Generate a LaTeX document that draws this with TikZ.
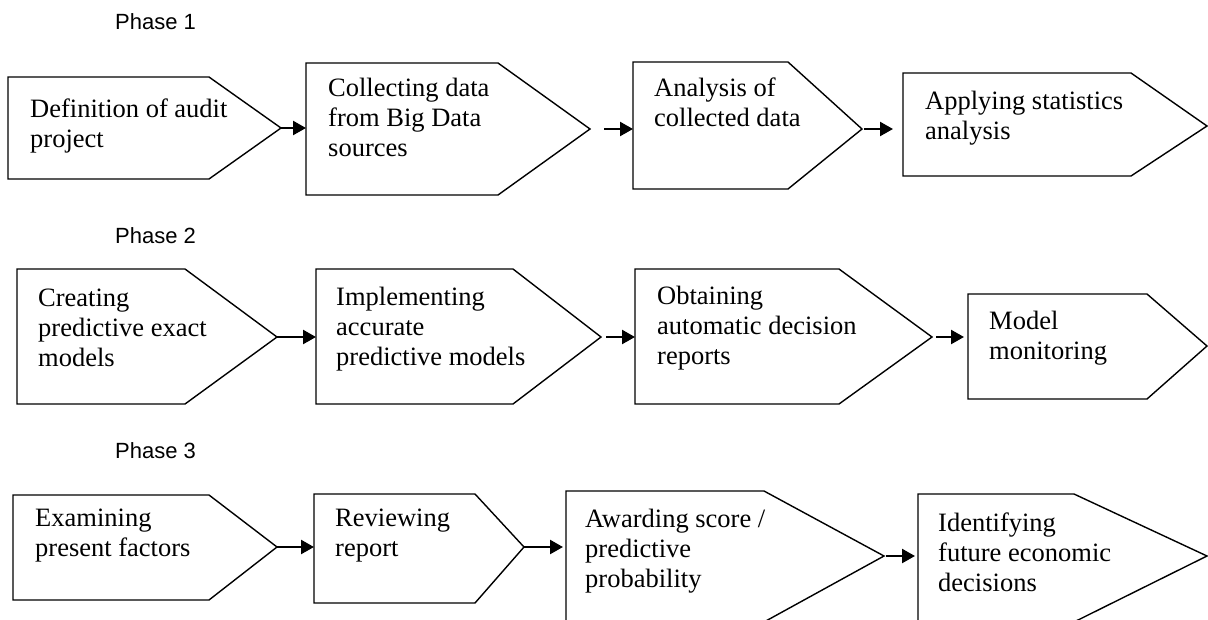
\documentclass[tikz,border=0pt]{standalone}
\usepackage{fontspec}
\setmainfont{Liberation Serif}
\newfontfamily\labelfont{Liberation Sans}
\usetikzlibrary{arrows.meta}

% #1 name, #2 left, #3 top, #4 bottom, #5 shoulder x, #6 tip x, #7 tip y
\newcommand\stagebox[7]{%
  \draw[stage] (#2,#3) -- (#5,#3) -- (#6,#7) -- (#5,#4) -- (#2,#4) -- cycle;
  \coordinate (#1-tip) at (#6,#7);
  \coordinate (#1-w) at (#2,#7);
}

\begin{document}
\begin{tikzpicture}[x=1pt,y=-1pt,
  stage/.style={draw, line width=1.4pt, line join=miter},
  txt/.style={anchor=north west, inner sep=0pt, align=left,
    font=\fontsize{26.5}{30}\selectfont},
  phase/.style={anchor=west, inner sep=0pt,
    font=\labelfont\fontsize{22}{26}\selectfont},
  flow/.style={line width=2.4pt, -{Triangle[length=13pt,width=14pt]}},
]
\useasboundingbox (0,0) rectangle (1208,619);
\clip (0,0) rectangle (1208,619);

% ---------------- Phase 1 ----------------
\node[phase] (p1) at (115,22) {Phase 1};
\stagebox{a1}{8}{77}{179}{209}{281}{128}
\stagebox{a2}{306}{63}{195}{498}{590}{129}
\stagebox{a3}{633}{62}{189}{788}{862}{129}
\stagebox{a4}{903}{73}{176}{1131}{1207}{126}
\node[txt] (t1) at (30,99)  {Definition of audit\\project};
\node[txt] (t2) at (328,78) {Collecting data\\from Big Data\\sources};
\node[txt] (t3) at (654,78) {Analysis of\\collected data};
\node[txt] (t4) at (925,91) {Applying statistics\\analysis};
\draw[flow] (a1-tip) -- (a1-tip -| a2-w);
\draw[flow] ([xshift=14pt]a2-tip) -- (a2-tip -| a3-w);
\draw[flow] ([xshift=2pt]a3-tip) -- ([xshift=-10pt]a3-tip -| a4-w);

% ---------------- Phase 2 ----------------
\node[phase] (p2) at (115,236) {Phase 2};
\stagebox{b1}{17}{269}{404}{185}{277}{337}
\stagebox{b2}{316}{269}{404}{513}{601}{337}
\stagebox{b3}{635}{269}{404}{839}{932}{337}
\stagebox{b4}{968}{294}{399}{1147}{1207}{346}
\node[txt] (t5) at (38,289)  {Creating\\predictive exact\\models};
\node[txt] (t6) at (336,287) {Implementing\\accurate\\predictive models};
\node[txt] (t7) at (657,286) {Obtaining\\automatic decision\\reports};
\node[txt] (t8) at (989,311) {Model\\monitoring};
\draw[flow] (b1-tip) -- (b1-tip -| b2-w);
\draw[flow] ([xshift=5pt]b2-tip) -- (b2-tip -| b3-w);
\draw[flow] ([xshift=4pt]b3-tip) -- ([xshift=-4pt]b3-tip -| b4-w);

% ---------------- Phase 3 ----------------
\node[phase] (p3) at (115,451) {Phase 3};
\stagebox{c1}{13}{495}{600}{209}{277}{547}
\stagebox{c2}{314}{494}{603}{475}{524}{547}
\stagebox{c3}{566}{491}{622}{764}{884}{556}
\stagebox{c4}{918}{494}{622}{1074}{1207}{556}
\node[txt] (t9)  at (35,509)  {Examining\\present factors};
\node[txt] (t10) at (335,509) {Reviewing\\report};
\node[txt] (t11) at (585,509) {Awarding score /\\predictive\\probability};
\node[txt] (t12) at (938,513) {Identifying\\future economic\\decisions};
\draw[flow] (c1-tip) -- (c1-tip -| c2-w);
\draw[flow] (c2-tip) -- ([xshift=-3pt]c2-tip -| c3-w);
\draw[flow] ([xshift=2pt]c3-tip) -- ([xshift=-3pt]c3-tip -| c4-w);
\end{tikzpicture}
\end{document}
